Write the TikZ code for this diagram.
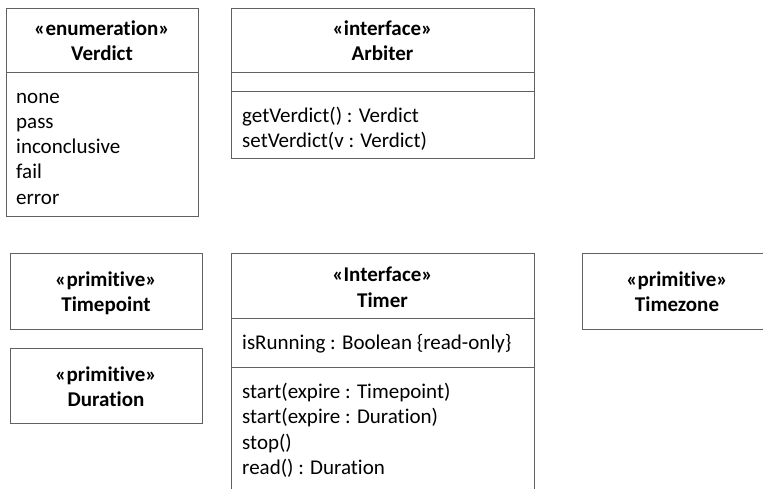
\documentclass[tikz,border=0pt]{standalone}
\usepackage{fontspec}
\setmainfont{Carlito}[Ligatures={NoCommon}]
\begin{document}
\begin{tikzpicture}[x=1pt,y=-1pt,
  box/.style={draw=black!62, line width=0.9pt},
  sep/.style={draw=black!62, line width=0.9pt},
  txt/.style={inner sep=0pt, anchor=base west, font=\fontsize{21}{25}\selectfont},
  hdr/.style={inner sep=0pt, anchor=base, font=\fontsize{21}{25}\selectfont\bfseries}]
\clip (0,0) rectangle (763,489);
\fill[white] (0,0) rectangle (763,489);
% Verdict
\draw[box] (6,8) rectangle (198,216);
\draw[sep] (6,72) -- (198,72);
\node[hdr] (vst) at (102,36) {«enumeration»};
\node[hdr] (vnm) at (102,61) {Verdict};
\node[txt] (v1) at (16,104) {none};
\node[txt] (v2) at (16,129) {pass};
\node[txt] (v3) at (16,154) {inconclusive};
\node[txt] (v4) at (16,179) {fail};
\node[txt] (v5) at (16,205) {error};
% Arbiter
\draw[box] (231,8) rectangle (534,158);
\draw[sep] (231,72) -- (534,72);
\draw[sep] (231,91) -- (534,91);
\node[hdr] (ast) at (382.5,36) {«interface»};
\node[hdr] (anm) at (382.5,61) {Arbiter};
\node[txt] (a1) at (242,123) {getVerdict() : Verdict};
\node[txt] (a2) at (242,148) {setVerdict(v : Verdict)};
% Timepoint
\draw[box] (10,253) rectangle (202,329);
\node[hdr] (tpst) at (106,286) {«primitive»};
\node[hdr] (tpnm) at (106,311) {Timepoint};
% Duration
\draw[box] (10,348) rectangle (202,423);
\node[hdr] (dst) at (106,381) {«primitive»};
\node[hdr] (dnm) at (106,406) {Duration};
% Timezone
\draw[box] (582,253) rectangle (772,329);
\node[hdr] (tzst) at (677,286) {«primitive»};
\node[hdr] (tznm) at (677,311) {Timezone};
% Timer
\draw[box] (231,500) -- (231,253) -- (534,253) -- (534,500);
\draw[sep] (231,318) -- (534,318);
\draw[sep] (231,367) -- (534,367);
\node[hdr] (tst) at (382.5,281) {«Interface»};
\node[hdr] (tnm) at (382.5,307) {Timer};
\node[txt] (t0) at (242,349) {isRunning : Boolean \{read-only\}};
\node[txt] (t1) at (242,398) {start(expire : Timepoint)};
\node[txt] (t2) at (242,423) {start(expire : Duration)};
\node[txt] (t3) at (242,449) {stop()};
\node[txt] (t4) at (242,474) {read() : Duration};
\end{tikzpicture}
\end{document}
